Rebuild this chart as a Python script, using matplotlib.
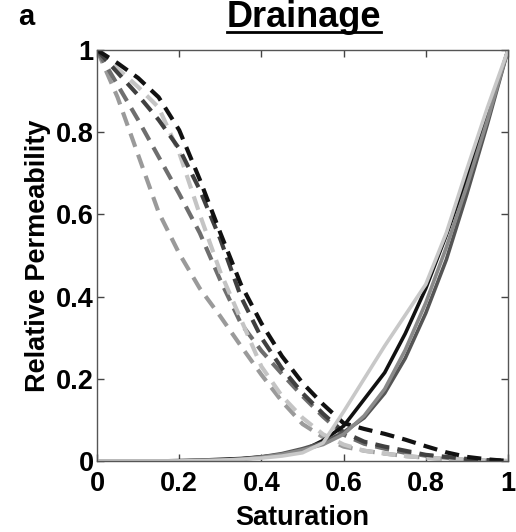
import matplotlib
matplotlib.use("Agg")
import matplotlib.pyplot as plt
from matplotlib.lines import Line2D

plt.rcParams['font.family'] = ['Liberation Sans', 'DejaVu Sans']

# Saturation grid
sat = [0.0, 0.05, 0.1, 0.15, 0.2, 0.25, 0.3, 0.35, 0.4, 0.45, 0.5,
       0.55, 0.6, 0.65, 0.7, 0.75, 0.8, 0.85, 0.9, 0.95, 1.0]

# Non-wetting phase relative permeability (dashed)
krn_black = [1.0, 0.968, 0.932, 0.885, 0.805, 0.685, 0.555, 0.43, 0.335, 0.255, 0.19,
             0.138, 0.092, 0.078, 0.066, 0.052, 0.036, 0.021, 0.01, 0.004, 0.0]
krn_dark = [1.0, 0.945, 0.89, 0.83, 0.76, 0.66, 0.54, 0.40, 0.30, 0.225, 0.165,
            0.115, 0.07, 0.047, 0.035, 0.025, 0.015, 0.01, 0.005, 0.002, 0.0]
krn_light = [1.0, 0.955, 0.91, 0.86, 0.75, 0.60, 0.46, 0.345, 0.23, 0.158, 0.105,
             0.065, 0.04, 0.025, 0.018, 0.012, 0.008, 0.005, 0.003, 0.001, 0.0]
krn_mid = [1.0, 0.915, 0.83, 0.74, 0.65, 0.555, 0.44, 0.335, 0.268, 0.212, 0.158,
           0.108, 0.064, 0.042, 0.03, 0.02, 0.013, 0.008, 0.004, 0.002, 0.0]
krn_midlight = [1.0, 0.885, 0.745, 0.605, 0.505, 0.42, 0.352, 0.28, 0.21, 0.145, 0.09,
                0.058, 0.035, 0.025, 0.018, 0.012, 0.008, 0.005, 0.003, 0.001, 0.0]

# Wetting phase relative permeability (solid)
krw_black = [0.0, 0.0, 0.0, 0.0, 0.001, 0.002, 0.004, 0.006, 0.01, 0.015, 0.025,
             0.05, 0.085, 0.15, 0.215, 0.31, 0.42, 0.55, 0.69, 0.84, 1.0]
krw_dark = [0.0, 0.0, 0.0, 0.0, 0.0, 0.001, 0.002, 0.005, 0.01, 0.018, 0.03,
            0.045, 0.07, 0.105, 0.165, 0.25, 0.36, 0.49, 0.65, 0.82, 1.0]
krw_mid = [0.0, 0.0, 0.0, 0.0, 0.0, 0.001, 0.002, 0.004, 0.009, 0.016, 0.027,
           0.04, 0.065, 0.11, 0.175, 0.27, 0.385, 0.52, 0.67, 0.83, 1.0]
krw_light = [0.0, 0.0, 0.0, 0.0, 0.0, 0.001, 0.002, 0.004, 0.007, 0.012, 0.02,
             0.044, 0.12, 0.2, 0.28, 0.355, 0.43, 0.555, 0.71, 0.86, 1.0]

ticks = [0, 0.2, 0.4, 0.6, 0.8, 1]
tick_labels = ['0', '0.2', '0.4', '0.6', '0.8', '1']

fig = plt.figure(figsize=(5.16, 5.32), dpi=100)
ax = fig.add_axes([97/516, 71/532, 411/516, 411/532])

dash = (3.4, 2.0)
dashed = [(krn_midlight, '#9a9a9a'), (krn_mid, '#6e6e6e'), (krn_light, '#c4c4c4'),
          (krn_dark, '#404040'), (krn_black, '#111111')]
for ys, c in dashed:
    ax.plot(sat, ys, color=c, lw=3.0, linestyle=(0, dash), solid_capstyle='butt')

solid = [(krw_black, '#111111'), (krw_dark, '#555555'), (krw_mid, '#8a8a8a'),
         (krw_light, '#c8c8c8')]
for ys, c in solid:
    ax.plot(sat, ys, color=c, lw=2.6)

ax.set_xlim(0, 1)
ax.set_ylim(0, 1)
ax.set_xticks(ticks)
ax.set_xticklabels(tick_labels)
ax.set_yticks(ticks)
ax.set_yticklabels(tick_labels)
ax.tick_params(direction='in', length=5, width=1, top=True, right=True,
               labelsize=19.5, color='#444444')
ax.tick_params(axis='x', pad=7)
ax.tick_params(axis='y', pad=2.5)
for lab in ax.get_xticklabels() + ax.get_yticklabels():
    lab.set_fontweight('bold')
for s in ax.spines.values():
    s.set_color('#555555')
    s.set_linewidth(1.0)

ax.set_xlabel('Saturation', fontsize=19.5, fontweight='bold')
ax.set_ylabel('Relative Permeability', fontsize=19.5, fontweight='bold', labelpad=3)
ax.xaxis.set_label_coords(302/516, 1 - 525/532, transform=fig.transFigure)
ax.xaxis.label.set_va('baseline')

t = fig.text(304/516, 1 - 27/532, 'Drainage', fontsize=26, fontweight='bold',
             ha='center', va='baseline')
fig.text(18/516, 1 - 25/532, 'a', fontsize=21, fontweight='bold', ha='left', va='baseline')

fig.canvas.draw()
bb = t.get_window_extent(fig.canvas.get_renderer())
W, H = fig.bbox.width, fig.bbox.height
yline = (532 - 32) / 532
fig.add_artist(Line2D([bb.x0 / W, bb.x1 / W], [yline, yline], color='black', lw=2.0,
                      transform=fig.transFigure))

fig.savefig('out.png', dpi=100)
